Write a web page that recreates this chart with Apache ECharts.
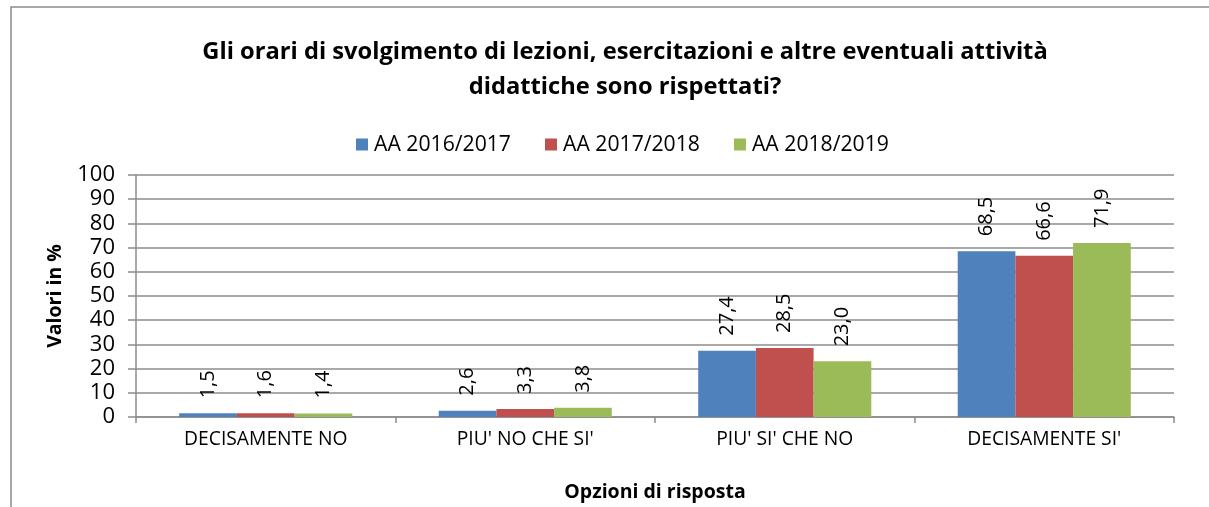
<!DOCTYPE html>
<html>
<head>
<meta charset="utf-8">
<script src="https://cdn.jsdelivr.net/npm/echarts@6/dist/echarts.min.js"></script>
<style>
html,body{margin:0;padding:0;background:#fff;}
#chart{width:1209px;height:507px;}
</style>
</head>
<body>
<div id="chart"></div>
<script>
const categories = ["DECISAMENTE NO", "PIU' NO CHE SI'", "PIU' SI' CHE NO", "DECISAMENTE SI'"];
const seriesNames = ["AA 2016/2017", "AA 2017/2018", "AA 2018/2019"];
const values2016 = [1.5, 2.6, 27.4, 68.5];
const values2017 = [1.6, 3.3, 28.5, 66.6];
const values2018 = [1.4, 3.8, 23.0, 71.9];
const yTicks = [0, 10, 20, 30, 40, 50, 60, 70, 80, 90, 100];

const colors = ["#4F81BD", "#C0504D", "#9BBB59"];
const FONT = "Open Sans";
const allValues = [values2016, values2017, values2018];

const chart = echarts.init(document.getElementById('chart'), null, {renderer: 'canvas'});
const option = {
  animation: false,
  textStyle: {fontFamily: FONT},
  title: {
    text: "Gli orari di svolgimento di lezioni, esercitazioni e altre eventuali attività\ndidattiche sono rispettati?",
    left: 620, top: 30, textAlign: 'center',
    textStyle: {fontFamily: FONT, fontWeight: 'bold', fontSize: 23.7, color: '#000', lineHeight: 35}
  },
  legend: {
    data: seriesNames,
    top: 129,
    left: 351,
    itemWidth: 12, itemHeight: 12, itemGap: 34,
    icon: 'rect',
    textStyle: {fontFamily: FONT, fontSize: 21.2, color: '#000', padding: [0,0,0,1]}
  },
  graphic: [{
    type: 'rect', shape: {x: 11, y: 7, width: 1400, height: 700},
    style: {fill: 'none', stroke: '#8c8c8c', lineWidth: 1.5}, silent: true, z: -1
  }],
  grid: {left: 136, right: 35, top: 175, bottom: 90},
  xAxis: {
    type: 'category', data: categories,
    name: 'Opzioni di risposta', nameLocation: 'middle', nameGap: 65,
    nameTextStyle: {fontFamily: FONT, fontWeight: 'bold', fontSize: 19.5, color: '#000'},
    axisLine: {lineStyle: {color: '#8c8c8c', width: 1.5}},
    axisTick: {show: true, length: 6, lineStyle: {color: '#8c8c8c', width: 1.5}},
    axisLabel: {fontFamily: FONT, fontSize: 19.3, color: '#000', margin: 13}
  },
  yAxis: {
    type: 'value', min: 0, max: 100, interval: 10,
    name: 'Valori in %', nameLocation: 'middle', nameGap: 71, nameRotate: 90,
    nameTextStyle: {fontFamily: FONT, fontWeight: 'bold', fontSize: 19.5, color: '#000'},
    axisLine: {show: true, lineStyle: {color: '#8c8c8c', width: 1.5}},
    axisTick: {show: true, length: 8, lineStyle: {color: '#8c8c8c', width: 1.5}},
    splitLine: {lineStyle: {color: '#8c8c8c', width: 1.5}},
    axisLabel: {fontFamily: FONT, fontSize: 22, color: '#000', margin: 21,
      formatter: v => yTicks.includes(v) ? String(v) : ''}
  },
  series: allValues.map((vals, i) => ({
    name: seriesNames[i], type: 'bar', data: vals,
    barGap: '0%', barCategoryGap: '33.3%',
    itemStyle: {color: colors[i]},
    label: {
      show: true, position: 'top', rotate: 90, align: 'left', verticalAlign: 'middle',
      distance: 15,
      fontFamily: FONT, fontSize: 20, color: '#000',
      formatter: p => p.value.toFixed(1).replace('.', ',')
    }
  }))
};
chart.setOption(option);
</script>
</body>
</html>
